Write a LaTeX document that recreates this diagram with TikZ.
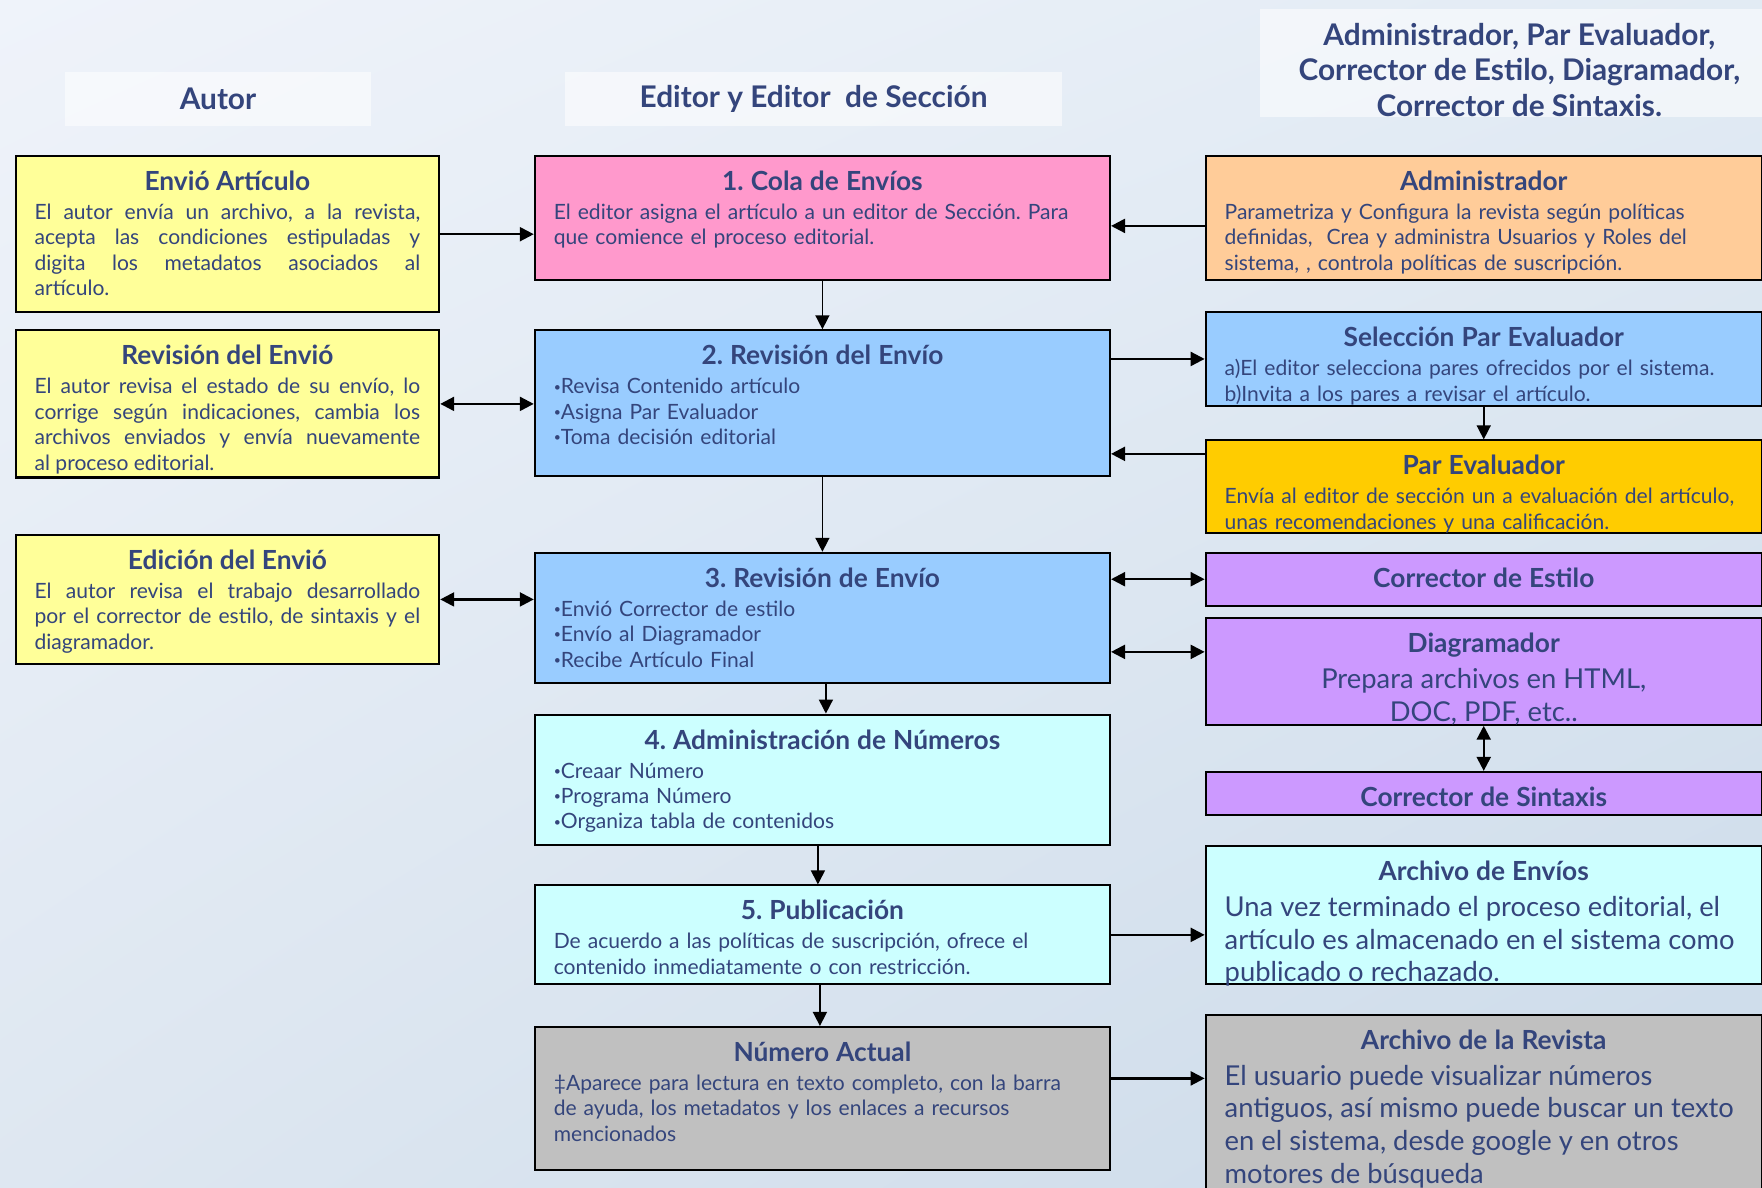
\documentclass[tikz,border=0pt]{standalone}
\usepackage{fontspec}
\setmainfont{Lato}
\usetikzlibrary{arrows.meta,shadings}
\frenchspacing

\definecolor{tinta}{HTML}{34457C}
\definecolor{amarillo}{HTML}{FFFF99}
\definecolor{rosa}{HTML}{FF99CC}
\definecolor{celeste}{HTML}{99CCFF}
\definecolor{aguamarina}{HTML}{CCFFFF}
\definecolor{gris}{HTML}{C0C0C0}
\definecolor{naranja}{HTML}{FFCC99}
\definecolor{oro}{HTML}{FFCC00}
\definecolor{lila}{HTML}{CC99FF}
\definecolor{fondoA}{HTML}{EFF3FA}
\definecolor{fondoB}{HTML}{E2EBF4}
\definecolor{fondoC}{HTML}{DEE7F1}
\definecolor{fondoD}{HTML}{CBDAE9}

\newcommand{\cuerpo}{\fontsize{12}{14.5}\selectfont}
\newcommand{\grande}{\fontsize{15.6}{18.6}\selectfont}
\newcommand{\titulo}[1]{{\centering\bfseries\fontsize{15}{17}\selectfont #1\par}\vskip2pt}
\newcommand{\vin}{\raisebox{0.25ex}{\fontsize{7}{7}\selectfont•}}

\tikzset{
  caja/.style={draw=black, line width=1.2pt, anchor=north west, inner xsep=0.38cm,
    inner ysep=0pt, text=tinta, font=\cuerpo, text height=0.69cm, text depth=#1},
  izq/.style={text width=7.7225cm, align=justify},
  centro/.style={text width=10.76cm, align=left},
  der/.style={text width=10.3775cm, align=left},
  cabecera/.style={fill=white, fill opacity=0.55, text opacity=1, text=tinta,
    font=\bfseries\fontsize{17}{20.2}\selectfont, align=center},
  flecha/.style={-{Triangle[length=0.28cm,width=0.28cm]}, line width=1.3pt},
  doble/.style={{Triangle[length=0.28cm,width=0.28cm]}-{Triangle[length=0.28cm,width=0.28cm]}, line width=1.3pt},
  baja/.style={flecha, line width=0.9pt}
}

\begin{document}
\begin{tikzpicture}[x=0.0225cm, y=-0.0225cm]
\useasboundingbox (0,0) rectangle (1568,1057);
\shade[upper left=fondoA, upper right=fondoB, lower left=fondoC, lower right=fondoD]
  (0,0) rectangle (1568,1057);

% cabeceras
\node[cabecera, minimum width=6.12cm, minimum height=1.08cm] (hautor) at (194,88) {Autor};
\node[cabecera, minimum width=9.97cm, minimum height=1.08cm] (heditor) at (724,88) {Editor y Editor\ \ de Sección};
\node[cabecera, minimum width=10.1cm, minimum height=2.16cm] (hroles) at (1346,56) {};
\node[text=tinta, font=\bfseries\fontsize{17}{20.2}\selectfont, align=center] (troles) at (1352,62)
  {Administrador, Par Evaluador,\\ Corrector de Estilo, Diagramador,\\ Corrector de Sintaxis.};

% columna del autor
\node[caja=2.4375cm, izq, fill=amarillo] (envio) at (13,138) {\titulo{Envió Artículo}
  El autor envía un archivo, a la revista,\linebreak acepta las condiciones estipuladas y\linebreak
  digita los metadatos asociados al\linebreak artículo.};
\node[caja=2.2575cm, izq, fill=amarillo] (revision) at (13,293) {\titulo{Revisión del Envió}
  El autor revisa el estado de su envío, lo\linebreak corrige según indicaciones, cambia los\linebreak
  archivos enviados y envía nuevamente\linebreak al proceso editorial.};
\node[caja=1.8975cm, izq, fill=amarillo] (edicion) at (13,475) {\titulo{Edición del Envió}
  El autor revisa el trabajo desarrollado\linebreak por el corrector de estilo, de sintaxis y el\linebreak
  diagramador.};

% columna del editor
\node[caja=1.785cm, centro, fill=rosa] (cola) at (475,138) {\titulo{1. Cola de Envíos}
  El editor asigna el artículo a un editor de Sección. Para\\ que comience el proceso editorial.};
\node[caja=2.235cm, centro, fill=celeste] (revenvio) at (475,293) {\titulo{2. Revisión del Envío}
  \vin Revisa Contenido artículo\\ \vin Asigna Par Evaluador\\ \vin Toma decisión editorial};
\node[caja=1.92cm, centro, fill=celeste] (revedicion) at (475,491) {\titulo{3. Revisión de Envío}
  \vin Envió Corrector de estilo\\ \vin Envío al Diagramador\\ \vin Recibe Artículo Final};
\node[caja=1.92cm, centro, fill=aguamarina] (numeros) at (475,635) {\titulo{4. Administración de Números}
  \vin Creaar Número\\ \vin Programa Número\\ \vin Organiza tabla de contenidos};
\node[caja=1.29cm, centro, fill=aguamarina] (publicacion) at (475,787) {\titulo{5. Publicación}
  De acuerdo a las políticas de suscripción, ofrece el\\ contenido inmediatamente o con restricción.};
\node[caja=2.1675cm, centro, fill=gris] (actual) at (475,913) {\titulo{Número Actual}
  ‡Aparece para lectura en texto completo, con la barra\\ de ayuda, los metadatos y los enlaces a recursos\\ mencionados};

% columna de roles
\node[caja=1.785cm, der, fill=naranja] (admin) at (1072,138) {\titulo{Administrador}
  Parametriza y Configura la revista según políticas\\ definidas,\ \ Crea y administra Usuarios y Roles del\\
  sistema, , controla políticas de suscripción.};
\node[caja=1.1775cm, der, fill=celeste] (seleccion) at (1072,277) {\titulo{Selección Par Evaluador}
  a)El editor selecciona pares ofrecidos por el sistema.\\ b)Invita a los pares a revisar el artículo.};
\node[caja=1.155cm, der, fill=oro] (par) at (1072,391) {\titulo{Par Evaluador}
  Envía al editor de sección un a evaluación del artículo,\\ unas recomendaciones y una calificación.};
\node[caja=0.3675cm, der, fill=lila] (estilo) at (1072,491) {\titulo{Corrector de Estilo}};
\node[caja=1.4475cm, der, fill=lila, align=center] (diagramador) at (1072,549) {\titulo{Diagramador}
  \grande Prepara archivos en HTML,\\ DOC, PDF, etc..\par};
\node[caja=0.165cm, der, fill=lila] (sintaxis) at (1072,686) {\titulo{Corrector de Sintaxis}};
\node[caja=2.0775cm, der, fill=aguamarina] (archenvios) at (1072,752) {\titulo{Archivo de Envíos}
  \grande Una vez terminado el proceso editorial, el\\ artículo es almacenado en el sistema como\\
  publicado o rechazado.\par};
\node[caja=3.135cm, der, fill=gris] (archrevista) at (1072,902) {\titulo{Archivo de la Revista}
  \grande El usuario puede visualizar números\\ antiguos, así mismo puede buscar un texto\\
  en el sistema, desde google y en otros\\ motores de búsqueda\par};

% conectores
\coordinate (cadmin) at ([yshift=-0.16cm]admin.west);
\coordinate (cpar) at ([yshift=-0.29cm]par.north west);
\coordinate (cdiag) at ([yshift=-0.7cm]diagramador.north west);
\coordinate (cactual) at ([yshift=-1.05cm]actual.north east);
\draw[flecha] (envio.east) -- (envio.east -| cola.west);
\draw[flecha] (cadmin) -- (cadmin -| cola.east);
\draw[doble] (revision.east) -- (revision.east -| revenvio.west);
\draw[flecha] (seleccion.west -| revenvio.east) -- (seleccion.west);
\draw[flecha] (cpar) -- (cpar -| revenvio.east);
\draw[doble] (edicion.east) -- (edicion.east -| revedicion.west);
\draw[doble] (estilo.west -| revedicion.east) -- (estilo.west);
\draw[doble] (cdiag -| revedicion.east) -- (cdiag);
\draw[doble] (diagramador.south) -- (sintaxis.north);
\draw[baja] (seleccion.south) -- (par.north);
\draw[baja] (cola.south) -- (revenvio.north);
\draw[baja] (revenvio.south) -- (revedicion.north);
\draw[baja] ([xshift=0.07cm]revedicion.south) -- ([xshift=0.07cm]numeros.north);
\draw[baja] ([xshift=-0.09cm]numeros.south) -- ([xshift=-0.09cm]publicacion.north);
\draw[baja] ([xshift=-0.05cm]publicacion.south) -- ([xshift=-0.05cm]actual.north);
\draw[flecha] (publicacion.east) -- (publicacion.east -| archenvios.west);
\draw[flecha] (cactual) -- (cactual -| archrevista.west);
\end{tikzpicture}
\end{document}
